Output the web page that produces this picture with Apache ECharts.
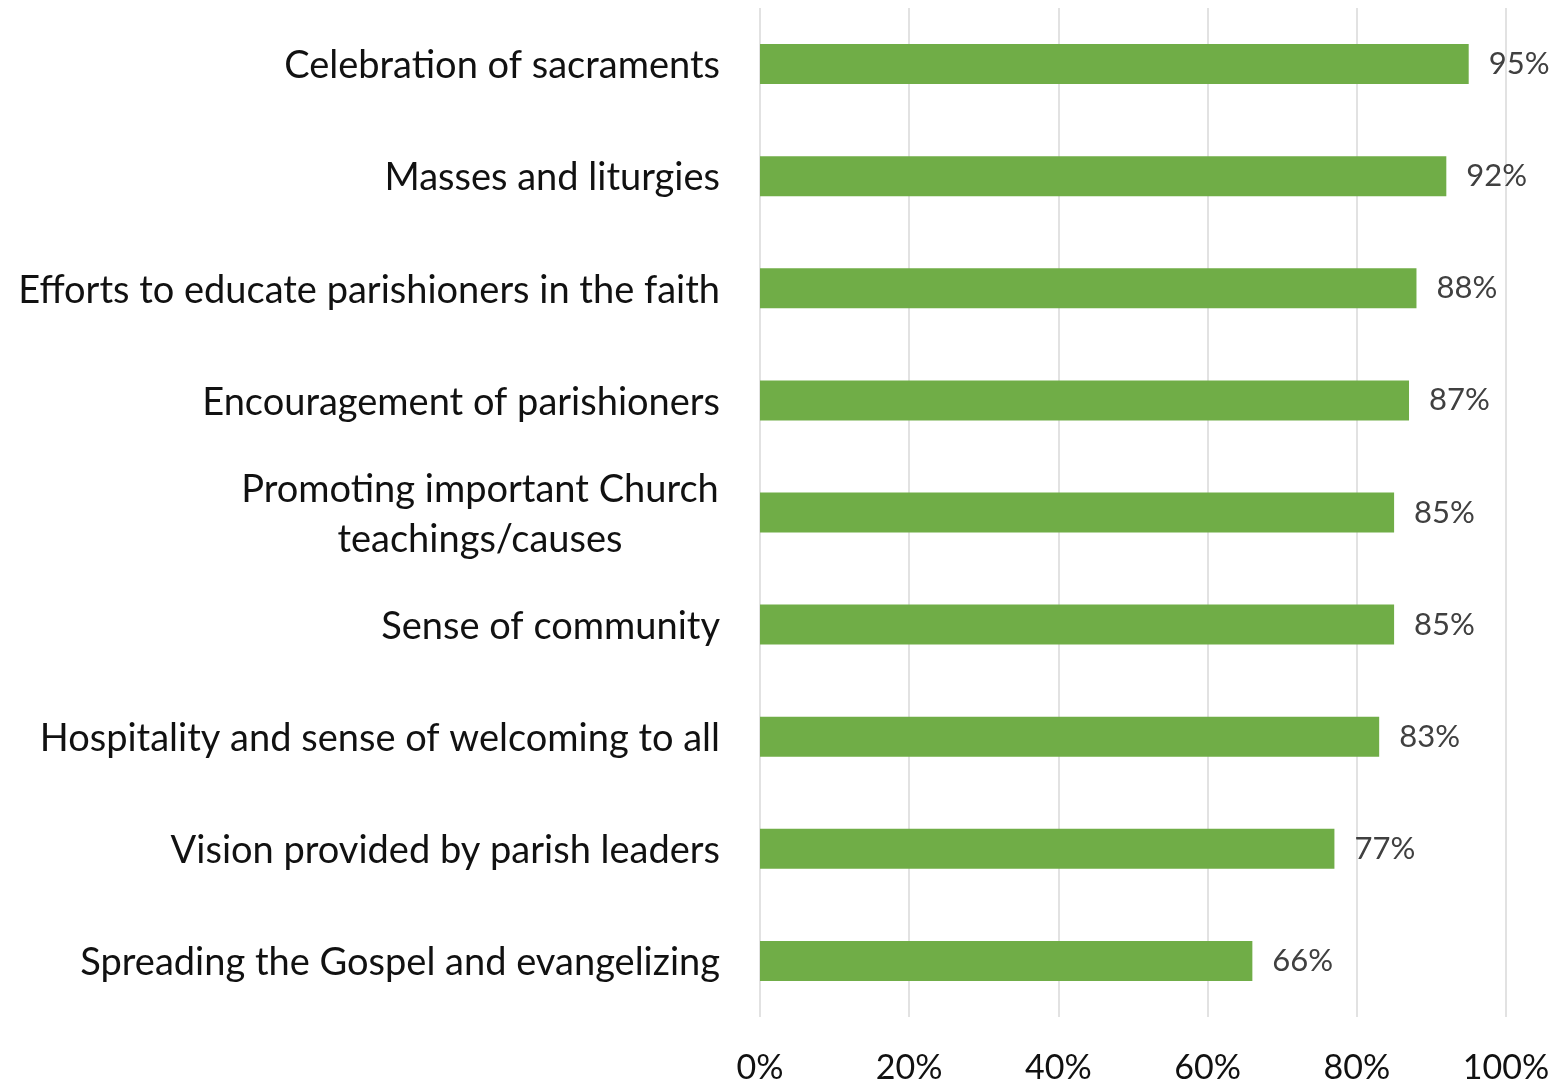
<!DOCTYPE html>
<html>
<head>
<meta charset="utf-8">
<script src="https://cdn.jsdelivr.net/npm/echarts@6/dist/echarts.min.js"></script>
<style>
html,body{margin:0;padding:0;background:#fff;}
#chart{width:1556px;height:1085px;}
</style>
</head>
<body>
<div id="chart"></div>
<script>
const categories = [
  "Celebration of sacraments",
  "Masses and liturgies",
  "Efforts to educate parishioners in the faith",
  "Encouragement of parishioners",
  "Promoting important Church\nteachings/causes",
  "Sense of community",
  "Hospitality and sense of welcoming to all",
  "Vision provided by parish leaders",
  "Spreading the Gospel and evangelizing"
];
const values = [95, 92, 88, 87, 85, 85, 83, 77, 66];
const xTicks = [0, 20, 40, 60, 80, 100];

const chart = echarts.init(document.getElementById('chart'));
const FONT = 'Lato';
chart.setOption({
  animation: false,
  grid: { left: 760, right: 50, top: 8, bottom: 65, containLabel: false },
  xAxis: {
    type: 'value', min: 0, max: 100, interval: 20,
    axisLine: { show: false }, axisTick: { show: false },
    splitLine: { show: true, lineStyle: { color: '#d9d9d9', width: 1.5 } },
    axisLabel: {
      margin: 34, color: '#111', fontFamily: FONT, fontSize: 34,
      formatter: v => xTicks.includes(v) ? v + '%' : ''
    }
  },
  yAxis: {
    type: 'category', inverse: true, data: categories,
    axisLine: { show: false }, axisTick: { show: false },
    axisLabel: {
      margin: 40, color: '#111', fontFamily: FONT, fontSize: 38, lineHeight: 50,
      padding: [4, 0, 0, 0],
      formatter: function (v) {
        if (v.indexOf('\n') >= 0) {
          return v.split('\n').map(s => '{c|' + s + '}').join('\n');
        }
        return v;
      },
      rich: {
        c: { width: 480, align: 'center', fontFamily: FONT, fontSize: 38, lineHeight: 50, color: '#111' }
      }
    }
  },
  series: [{
    type: 'bar', data: values, barWidth: 40,
    itemStyle: { color: '#70ad47' },
    label: {
      show: true, position: 'right', distance: 20,
      color: '#404040', fontFamily: FONT, fontSize: 31,
      padding: [5, 0, 0, 0],
      formatter: p => p.value + '%'
    }
  }]
});
</script>
</body>
</html>
